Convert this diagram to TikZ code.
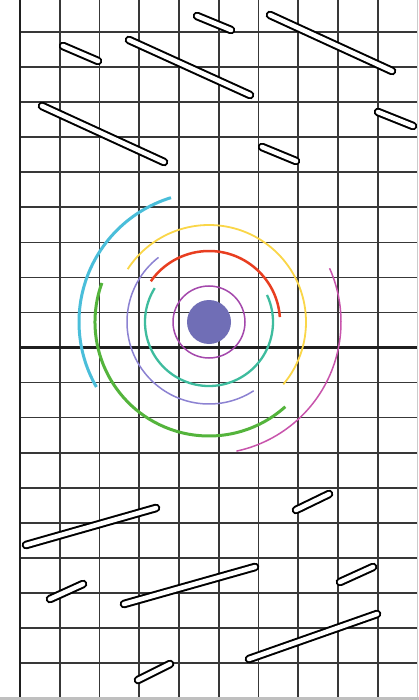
\documentclass[tikz,border=0pt]{standalone}
\usepackage{xcolor}
\usepackage{tikz}
\definecolor{ringcyan}{RGB}{74,190,218}
\definecolor{ringyellow}{RGB}{250,214,72}
\definecolor{ringred}{RGB}{232,62,32}
\definecolor{ringteal}{RGB}{62,188,158}
\definecolor{ringviolet}{RGB}{140,130,210}
\definecolor{ringgreen}{RGB}{84,180,60}
\definecolor{ringmagenta}{RGB}{200,84,172}
\definecolor{ringpurple}{RGB}{164,72,172}
\definecolor{diskblue}{RGB}{112,110,182}

\begin{document}
\begin{tikzpicture}[x=1pt,y=-1pt,
    grid/.style={line width=1.6pt,black!78},
    axis/.style={line width=2.7pt,black!88},
    bar/.style={draw=black,line width=2pt,double=white,double distance=4.6pt,line cap=round},
    ring/.style={line width=#1}]
    \useasboundingbox (0,0) rectangle (419,700);
    \fill[white] (0,0) rectangle (419,700);
    \fill[black!25] (0,697) rectangle (419,700);

    % grid
    \foreach \i in {1,...,9}
        \draw[grid] (20+39.75*\i,0) -- (20+39.75*\i,697);
    \foreach \j in {0,...,18}
        \draw[grid] (20,32+35.06*\j) -- (417,32+35.06*\j);
    \draw[black!20,line width=0.8pt] (417.5,0) -- (417.5,697);
    \draw[axis] (20,0) -- (20,697);
    \draw[axis] (20,347.5) -- (417,347.5);

    % bars
    \foreach \xa/\ya/\xb/\yb in {63/46/98/61, 129/40/250/95, 42/106/164/162,
            197/16/231/30, 270/15/392/71, 378/112/413/126, 262/147/296/161,
            26/545/156/508, 50/599/83/584, 124/604/255/567, 138/680/170/664,
            296/510/329/494, 340/582/373/567, 249/659/377/614}
        \draw[bar] (\xa,\ya) -- (\xb,\yb);

    % rings
    \coordinate (ctr) at (209,322);
    \fill[diskblue] (ctr) circle[radius=22];
    \draw[ringpurple,ring=1.5pt] (ctr) circle[radius=36];
    \draw[ringteal,ring=2.3pt] (ctr) ++(-148:64) arc[start angle=-148,end angle=-385,radius=64];
    \draw[ringred,ring=2.5pt] (ctr) ++(-4:71) arc[start angle=-4,end angle=-145,radius=71];
    \draw[ringviolet,ring=1.5pt] (ctr) ++(-128:82) arc[start angle=-128,end angle=-303,radius=82];
    \draw[ringyellow,ring=1.8pt] (ctr) ++(40:97) arc[start angle=40,end angle=-147,radius=97];
    \draw[ringgreen,ring=3pt] (ctr) ++(-160:114) arc[start angle=-160,end angle=-312,radius=114];
    \draw[ringcyan,ring=3pt] (ctr) ++(-107:130) arc[start angle=-107,end angle=-210,radius=130];
    \draw[ringmagenta,ring=1.5pt] (ctr) ++(78:132) arc[start angle=78,end angle=-24,radius=132];
\end{tikzpicture}
\end{document}
